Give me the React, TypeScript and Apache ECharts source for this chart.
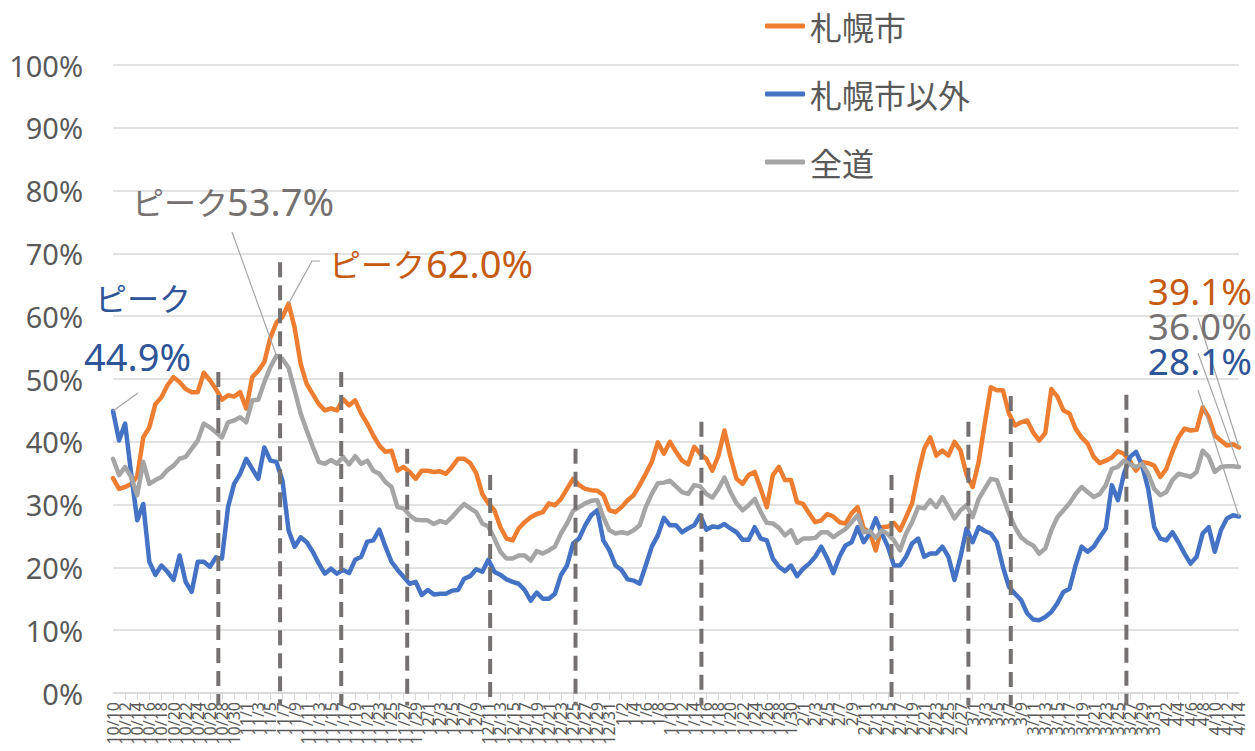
import React, { useEffect, useRef } from "react";
import * as echarts from "echarts";

// ---- categories (daily, 10/10 .. 4/14) ----
const monthLengths: [number, number][] = [[10, 31], [11, 30], [12, 31], [1, 31], [2, 28], [3, 31], [4, 30]];
const dates: string[] = (() => {
  const out: string[] = [];
  let mi = 0;
  let d = 10;
  while (out.length < 187) {
    out.push(`${monthLengths[mi][0]}/${d}`);
    d++;
    if (d > monthLengths[mi][1]) { d = 1; mi++; }
  }
  return out;
})();

// ---- series values (%) ----
const sapporo: number[] = [
  34.2, 32.5, 32.8, 33.3, 34.5, 40.7, 42.3, 46.0, 47.1, 49.0,
  50.3, 49.5, 48.4, 47.9, 47.9, 51.0, 49.8, 48.4, 46.7, 47.4,
  47.2, 47.9, 45.3, 50.3, 51.3, 52.7, 56.6, 59.0, 59.9, 62.0,
  58.2, 52.4, 49.2, 47.6, 46.0, 45.0, 45.3, 45.0, 46.8, 45.8,
  46.6, 44.5, 42.9, 41.0, 39.4, 38.4, 38.6, 35.4, 36.0, 35.2,
  34.1, 35.4, 35.4, 35.2, 35.3, 34.9, 36.0, 37.3, 37.3, 36.6,
  35.0, 31.7, 30.2, 29.1, 26.4, 24.6, 24.3, 26.2, 27.2, 28.0,
  28.5, 28.8, 30.2, 29.9, 30.9, 32.5, 34.1, 33.1, 32.5, 32.3,
  32.2, 31.5, 29.1, 28.8, 29.6, 30.7, 31.5, 33.1, 34.9, 36.8,
  39.9, 38.1, 40.0, 38.4, 37.0, 36.4, 39.2, 38.1, 37.3, 35.4,
  37.8, 41.8, 37.6, 34.1, 33.3, 34.7, 35.2, 32.5, 29.6, 34.7,
  36.0, 33.9, 33.9, 30.4, 30.1, 28.6, 27.2, 27.5, 28.5, 28.1,
  27.2, 27.0, 28.6, 29.6, 26.2, 25.6, 22.7, 26.4, 26.5, 27.1,
  25.9, 28.0, 30.2, 34.9, 38.9, 40.7, 37.8, 38.6, 37.8, 40.0,
  38.6, 34.7, 32.8, 36.8, 42.9, 48.7, 48.2, 48.2, 44.5, 42.6,
  43.1, 43.4, 41.5, 40.2, 41.4, 48.4, 47.2, 45.0, 44.5, 42.1,
  40.7, 39.7, 37.6, 36.6, 37.0, 37.5, 38.5, 38.1, 36.9, 35.4,
  36.8, 36.6, 36.2, 34.4, 35.7, 38.4, 40.7, 42.1, 41.8, 41.9,
  45.5, 43.9, 41.0, 40.2, 39.4, 39.6, 39.1,
];

const outsideSapporo: number[] = [
  44.9, 40.2, 42.9, 34.9, 27.5, 30.1, 20.9, 18.8, 20.3, 19.3,
  18.0, 21.9, 17.7, 16.1, 20.9, 20.9, 20.1, 21.6, 21.4, 29.6,
  33.3, 34.9, 37.3, 35.7, 34.1, 39.1, 37.0, 36.8, 33.8, 25.9,
  23.3, 24.8, 24.0, 22.5, 20.6, 19.0, 19.8, 19.0, 19.6, 19.1,
  21.2, 21.7, 24.1, 24.3, 26.0, 23.3, 20.9, 19.6, 18.5, 17.4,
  17.7, 15.6, 16.4, 15.7, 15.8, 15.8, 16.3, 16.4, 18.2, 18.6,
  19.7, 19.3, 21.2, 19.3, 18.8, 18.1, 17.7, 17.4, 16.4, 14.7,
  16.0, 15.0, 15.0, 15.8, 18.8, 20.3, 23.8, 24.6, 26.7, 28.3,
  29.1, 24.3, 22.7, 20.3, 19.6, 18.1, 17.9, 17.4, 20.3, 23.3,
  25.1, 27.9, 26.7, 26.7, 25.6, 26.2, 26.7, 28.3, 26.0, 26.5,
  26.4, 26.9, 26.2, 25.6, 24.4, 24.4, 26.4, 24.6, 24.3, 21.4,
  20.1, 19.4, 20.3, 18.6, 19.8, 20.6, 21.7, 23.3, 21.4, 19.1,
  21.7, 23.5, 24.0, 26.4, 24.0, 25.4, 27.8, 25.4, 23.3, 20.3,
  20.3, 21.7, 23.8, 24.6, 21.7, 22.2, 22.2, 23.3, 21.7, 18.0,
  21.7, 26.2, 24.0, 26.4, 25.8, 25.4, 24.0, 20.1, 16.9, 15.8,
  14.8, 12.7, 11.7, 11.6, 12.1, 12.9, 14.3, 16.1, 16.6, 20.3,
  23.3, 22.5, 23.3, 24.8, 26.2, 33.1, 30.7, 34.9, 37.6, 38.4,
  36.2, 32.5, 26.4, 24.6, 24.3, 25.6, 24.0, 22.2, 20.6, 21.7,
  25.4, 26.4, 22.5, 25.9, 27.8, 28.3, 28.1,
];

const hokkaido: number[] = [
  37.3, 34.7, 36.0, 34.4, 31.5, 36.8, 33.3, 33.9, 34.4, 35.5,
  36.2, 37.3, 37.6, 38.9, 40.2, 42.9, 42.3, 41.5, 40.7, 43.1,
  43.4, 43.9, 43.1, 46.6, 46.7, 49.5, 51.9, 53.7, 53.2, 51.8,
  48.2, 44.5, 41.8, 39.2, 36.8, 36.5, 37.1, 36.5, 37.6, 36.4,
  37.7, 36.5, 37.0, 35.4, 34.9, 33.6, 32.8, 29.6, 29.4, 28.3,
  27.6, 27.5, 27.5, 26.9, 27.4, 27.1, 28.0, 29.1, 30.1, 29.4,
  28.8, 27.0, 26.5, 24.6, 22.5, 21.4, 21.4, 21.9, 21.9, 21.1,
  22.6, 22.2, 22.7, 23.3, 25.4, 27.0, 29.0, 29.6, 30.2, 30.6,
  30.7, 28.0, 25.9, 25.4, 25.6, 25.4, 25.9, 26.7, 29.6, 31.7,
  33.4, 33.5, 33.8, 32.9, 32.0, 31.7, 33.1, 32.9, 31.7, 31.1,
  32.5, 34.3, 32.0, 30.2, 29.1, 29.9, 30.9, 28.8, 27.1, 27.0,
  26.3, 25.1, 25.9, 23.9, 24.6, 24.6, 24.7, 25.6, 25.6, 24.8,
  25.5, 26.1, 27.2, 28.3, 25.6, 25.8, 24.7, 25.9, 25.3, 24.3,
  22.7, 25.4, 27.2, 29.6, 29.4, 30.7, 29.6, 31.2, 29.6, 27.8,
  29.1, 29.9, 28.0, 30.9, 32.5, 34.1, 33.9, 31.2, 28.6, 26.4,
  24.8, 24.0, 23.5, 22.2, 23.0, 25.9, 28.0, 29.1, 30.2, 31.7,
  32.8, 32.0, 31.2, 31.7, 33.1, 35.7, 36.0, 37.0, 36.4, 36.0,
  36.5, 34.9, 32.5, 31.5, 32.0, 33.9, 34.9, 34.7, 34.4, 35.2,
  38.6, 37.6, 35.2, 36.0, 36.1, 36.1, 36.0,
];

// ---- dashed reference lines (position in days from 10/10, top value %) ----
const dashPositions: number[] = [17.4, 27.6, 37.7, 48.6, 62.3, 76.4, 97.2, 128.6, 141.3, 148.3, 167.4];
const dashTops: number[] = [51.1, 68.6, 51.1, 38.9, 34.7, 38.9, 43.2, 34.7, 43.2, 47.3, 47.5];

const yTicks: number[] = [0, 10, 20, 30, 40, 50, 60, 70, 80, 90, 100];

const ORANGE = "#ED7D31";
const BLUE = "#4472C4";
const GRAY = "#A5A5A5";
const TXT = "#595959";
const JP = '"Noto Sans CJK JP", "Noto Sans", sans-serif';
const LAT = '"Noto Sans", "Noto Sans CJK JP", sans-serif';

export default function App() {
  const ref = useRef<HTMLDivElement>(null);
  useEffect(() => {
    if (!ref.current) return;
    const chart = echarts.init(ref.current, undefined, { renderer: "svg" });
    const lineSeries = (name: string, arr: number[], color: string, z: number) => ({
      name,
      type: "line",
      xAxisIndex: 0,
      data: arr.map((v, i) => [i, v]),
      showSymbol: false,
      symbol: "none",
      smooth: false,
      z,
      lineStyle: { width: 4.5, color, cap: "round", join: "round" },
      itemStyle: { color },
    });
    const labelStyle = {
      rotate: 90,
      fontSize: 16,
      color: TXT,
      fontFamily: LAT,
      margin: 9,
      formatter: (v: number) => dates[Math.round(v)] ?? "",
    };
    const last = dates.length - 1;
    const option: any = {
      animation: false,
      grid: { left: 113, right: 16, top: 65, bottom: 58, containLabel: false },
      legend: {
        data: ["札幌市", "札幌市以外", "全道"],
        orient: "vertical",
        left: 760,
        top: 5,
        itemWidth: 40,
        itemHeight: 5,
        itemGap: 36,
        icon: "roundRect",
        textStyle: { fontSize: 32, color: TXT, fontFamily: JP },
      },
      xAxis: [
        {
          type: "value",
          min: 0,
          max: last,
          interval: 2,
          axisLine: { show: true, lineStyle: { color: "#D9D9D9", width: 1.5 } },
          axisTick: { show: true, length: 7, lineStyle: { color: "#D9D9D9", width: 1 } },
          splitLine: { show: false },
          axisLabel: { ...labelStyle, showMinLabel: false, showMaxLabel: false },
        },
        {
          // same scale; carries only the first and last date labels
          type: "value",
          position: "bottom",
          min: 0,
          max: last,
          interval: last,
          axisLine: { show: false },
          axisTick: { show: false },
          splitLine: { show: false },
          axisLabel: { ...labelStyle, showMinLabel: true, showMaxLabel: true },
        },
      ],
      yAxis: {
        type: "value",
        min: yTicks[0],
        max: yTicks[yTicks.length - 1],
        interval: 10,
        axisLine: { show: false },
        axisTick: { show: false },
        splitLine: { lineStyle: { color: "#D9D9D9", width: 1.5 } },
        axisLabel: { formatter: "{value}%", fontSize: 29, color: TXT, fontFamily: LAT, margin: 30 },
      },
      series: [
        lineSeries("札幌市", sapporo, ORANGE, 3),
        lineSeries("札幌市以外", outsideSapporo, BLUE, 4),
        lineSeries("全道", hokkaido, GRAY, 5),
        {
          name: "dash",
          type: "custom",
          xAxisIndex: 0,
          silent: true,
          z: 10,
          clip: false,
          data: dashPositions.map((x, k) => [x, dashTops[k]]),
          renderItem: (_p: any, api: any) => {
            const top = api.coord([api.value(0), api.value(1)]);
            const bot = api.coord([api.value(0), -2]);
            return {
              type: "line",
              shape: { x1: top[0], y1: top[1], x2: bot[0], y2: bot[1] },
              style: { stroke: "#767171", lineWidth: 4, lineDash: [15, 8] },
            };
          },
        },
      ],
    };
    chart.setOption(option);

    const px = (i: number, v: number) => chart.convertToPixel({ xAxisIndex: 0, yAxisIndex: 0 }, [i, v]) as number[];
    const pBlue = px(0, outsideSapporo[0]);
    const pGray = px(27, hokkaido[27]);
    const pOrange = px(29, sapporo[29]);
    const pEndO = px(last, sapporo[last]);
    const pEndG = px(last, hokkaido[last]);
    const pEndB = px(last, outsideSapporo[last]);
    const leader = { stroke: "#A6A6A6", lineWidth: 1.2 };
    const txt = (text: string, x: number, y: number, size: number, fill: string, family: string, align = "left") => ({
      type: "text",
      silent: true,
      z: 100,
      style: {
        text, x, y, fill, fontSize: size, fontFamily: family, textAlign: align,
        textVerticalAlign: "middle", verticalAlign: "middle",
      },
    });
    chart.setOption({
      graphic: [
        { type: "line", silent: true, z: 50, shape: { x1: 138, y1: 393, x2: pBlue[0], y2: pBlue[1] }, style: leader },
        { type: "line", silent: true, z: 50, shape: { x1: 232, y1: 232, x2: pGray[0], y2: pGray[1] }, style: leader },
        { type: "polyline", silent: true, z: 50, shape: { points: [[320, 261], [312, 261], [pOrange[0], pOrange[1]]] }, style: { ...leader, fill: "none" } },
        { type: "line", silent: true, z: 50, shape: { x1: 1198, y1: 318, x2: pEndO[0], y2: pEndO[1] }, style: leader },
        { type: "line", silent: true, z: 50, shape: { x1: 1198, y1: 353, x2: pEndG[0], y2: pEndG[1] }, style: leader },
        { type: "line", silent: true, z: 50, shape: { x1: 1198, y1: 390, x2: pEndB[0], y2: pEndB[1] }, style: leader },
        txt("ピーク", 95, 297, 32, "#2F5597", JP),
        txt(outsideSapporo[0].toFixed(1) + "%", 84, 356, 38, "#2F5597", LAT),
        txt("ピーク", 132, 201, 32, "#767171", JP),
        txt(hokkaido[27].toFixed(1) + "%", 227, 201, 38, "#767171", LAT),
        txt("ピーク", 329, 263, 32, "#C55A11", JP),
        txt(sapporo[29].toFixed(1) + "%", 426, 263, 38, "#C55A11", LAT),
        txt(sapporo[last].toFixed(1) + "%", 1252, 290, 37, "#C55A11", LAT, "right"),
        txt(hokkaido[last].toFixed(1) + "%", 1252, 325, 37, "#767171", LAT, "right"),
        txt(outsideSapporo[last].toFixed(1) + "%", 1252, 360, 37, "#2F5597", LAT, "right"),
      ],
    });
    return () => chart.dispose();
  }, []);
  return (
    <div
      ref={ref}
      style={{ position: "absolute", left: 0, top: 0, width: 1255, height: 751, background: "#fff" }}
    />
  );
}
